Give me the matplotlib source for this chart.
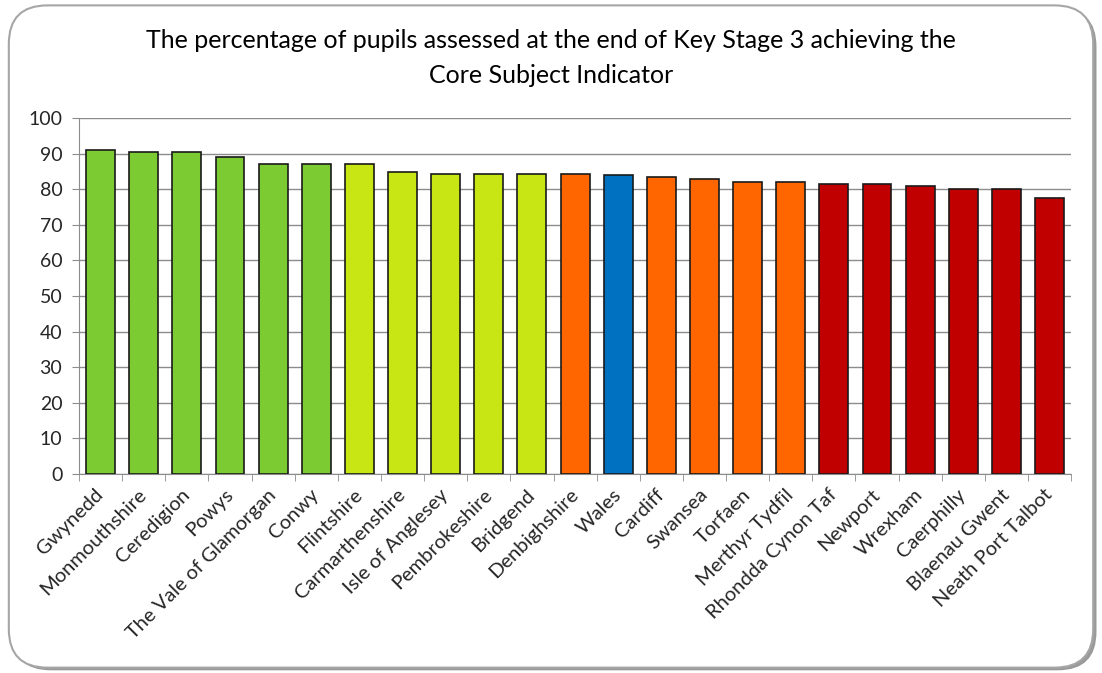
import numpy as np
import matplotlib.pyplot as plt
from matplotlib.patches import FancyBboxPatch

plt.rcParams['font.family'] = ['Lato', 'DejaVu Sans']

areas = ["Gwynedd", "Monmouthshire", "Ceredigion", "Powys", "The Vale of Glamorgan",
         "Conwy", "Flintshire", "Carmarthenshire", "Isle of Anglesey", "Pembrokeshire",
         "Bridgend", "Denbighshire", "Wales", "Cardiff", "Swansea", "Torfaen",
         "Merthyr Tydfil", "Rhondda Cynon Taf", "Newport", "Wrexham", "Caerphilly",
         "Blaenau Gwent", "Neath Port Talbot"]
pct = [90.9, 90.5, 90.5, 89.1, 87.2, 87.2, 87.2, 84.7, 84.3, 84.3, 84.3,
       84.3, 83.9, 83.3, 82.9, 81.9, 81.9, 81.5, 81.5, 81.0, 80.0, 80.0, 77.5]
group = ["g"] * 4 + ["g"] * 2 + ["y"] * 5 + ["o", "w"] + ["o"] * 4 + ["r"] * 6
colours = {"g": "#7dcb32", "y": "#c8e614", "o": "#ff6600", "w": "#0070c0", "r": "#c00000"}

fig = plt.figure(figsize=(11.02, 6.73), dpi=100)

# rounded chart-area frame with a soft shadow, kept behind the axes
box = dict(boxstyle="round,pad=0,rounding_size=0.035", transform=fig.transFigure,
           mutation_aspect=1102 / 673)
shadow = FancyBboxPatch((0.011, 0.004), 0.984, 0.984, facecolor="#9a9a9a",
                        edgecolor="none", zorder=-11, **box)
frame = FancyBboxPatch((0.008, 0.008), 0.984, 0.984, facecolor="white",
                       edgecolor="#a6a6a6", linewidth=1.5, zorder=-10, **box)
fig.patches.extend([shadow, frame])

ax = fig.add_axes([0.0717, 0.2957, 0.9003, 0.529])
ax.patch.set_alpha(0)
x = np.arange(len(areas))
ax.bar(x, pct, width=0.67, color=[colours[g] for g in group],
       edgecolor="#1a1a1a", linewidth=1.2, zorder=3)

ax.set_xlim(-0.5, len(areas) - 0.5)
ax.set_ylim(0, 100)
ax.set_yticks(np.arange(0, 101, 10))
ax.yaxis.grid(True, color="#8c8c8c", linewidth=1, zorder=0)

ax.set_xticks(x)
ax.set_xticklabels(areas, rotation=45, ha="right", va="center", rotation_mode="anchor",
                   fontsize=14.5, color="#262626")
ax.set_xticks(np.arange(-0.5, len(areas)), minor=True)
ax.tick_params(axis="x", which="major", length=0, pad=13)
ax.tick_params(axis="x", which="minor", length=5, color="#8c8c8c")
ax.tick_params(axis="y", length=5, pad=7, color="#8c8c8c", labelsize=14, labelcolor="#262626")

for s in ["top", "right"]:
    ax.spines[s].set_visible(False)
for s in ["left", "bottom"]:
    ax.spines[s].set_color("#8c8c8c")

fig.text(0.5, 0.94, "The percentage of pupils assessed at the end of Key Stage 3 achieving the",
         ha="center", va="center", fontsize=18)
fig.text(0.5, 0.888, "Core Subject Indicator", ha="center", va="center", fontsize=18)

fig.savefig("out.png", dpi=100)
